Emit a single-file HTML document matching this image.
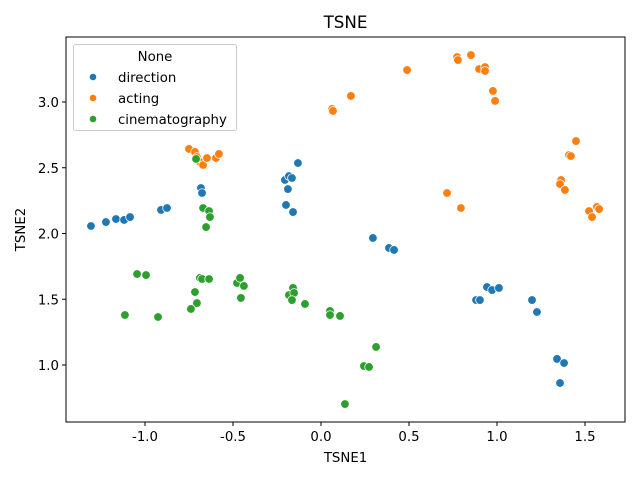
<!DOCTYPE html>
<html><head><meta charset="utf-8"><style>
body{margin:0;background:#fff;}
svg{display:block;font-family:"DejaVu Sans","Liberation Sans",sans-serif;}
</style></head><body>
<svg id="chart" width="640" height="480">
</svg>
<script>
const categories = ["direction","acting","cinematography"];
const colors = ["#1f77b4","#ff7f0e","#2ca02c"];
const xTicks = [-1.0,-0.5,0.0,0.5,1.0,1.5];
const yTicks = [1.0,1.5,2.0,2.5,3.0];
const directionX = [-1.307,-1.222,-1.165,-1.119,-1.085,-0.909,-0.875,-0.682,-0.676,-0.205,-0.182,-0.165,-0.188,-0.131,-0.199,-0.159,0.295,0.386,0.415,0.881,0.903,0.943,0.972,1.011,1.199,1.227,1.341,1.381,1.358];
const directionY = [2.057,2.087,2.110,2.103,2.125,2.179,2.194,2.346,2.308,2.407,2.437,2.422,2.338,2.536,2.217,2.163,1.966,1.890,1.875,1.494,1.494,1.593,1.570,1.586,1.494,1.403,1.046,1.015,0.863];
const actingX = [-0.750,-0.716,-0.705,-0.688,-0.670,-0.648,-0.597,-0.580,0.489,0.773,0.778,0.852,0.898,0.932,0.932,0.977,0.989,0.716,0.795,1.449,1.409,1.420,1.364,1.358,1.386,1.523,1.568,1.580,1.540,0.170,0.063,0.068];
const actingY = [2.643,2.620,2.582,2.544,2.521,2.574,2.574,2.605,3.243,3.342,3.319,3.357,3.251,3.266,3.236,3.084,3.008,2.308,2.194,2.703,2.597,2.589,2.407,2.376,2.331,2.171,2.202,2.186,2.125,3.046,2.947,2.932];
const cinemaX = [-0.710,-0.670,-0.636,-0.631,-0.653,-1.045,-0.994,-0.688,-0.676,-0.636,-0.716,-0.705,-0.739,-1.114,-0.926,-0.477,-0.460,-0.438,-0.455,-0.182,-0.159,-0.153,-0.165,-0.091,0.051,0.051,0.108,0.313,0.244,0.273,0.136];
const cinemaY = [2.567,2.194,2.171,2.125,2.049,1.692,1.684,1.662,1.654,1.654,1.555,1.471,1.426,1.380,1.365,1.624,1.662,1.601,1.510,1.532,1.586,1.548,1.494,1.464,1.411,1.380,1.373,1.137,0.992,0.985,0.703];

const L=66,R=625,T=37,B=422;
const sx = v => 321 + v*176;
const sy = v => 365 - (v-1)*131.5;
const NS="http://www.w3.org/2000/svg";
const svg=document.getElementById('chart');
function mk(tag,attrs,parent){const e=document.createElementNS(NS,tag);for(const k in attrs)e.setAttribute(k,attrs[k]);(parent||svg).appendChild(e);return e;}

const title=mk('text',{x:(L+R)/2,y:28,'text-anchor':'middle','font-size':16.7,fill:'#000'});
title.textContent='TSNE';



const series=[[directionX,directionY],[actingX,actingY],[cinemaX,cinemaY]];
series.forEach((s,si)=>{
  const g=mk('g',{});
  
  
  s[0].forEach((xv,i)=>{
    const c=mk('circle',{cx:sx(xv),cy:sy(s[1][i]),r:4.3,fill:colors[si],stroke:'#fff','stroke-width':0.75},g);
    
    
  });
});

const frame=mk('rect',{x:L,y:T,width:R-L,height:B-T,fill:'none',stroke:'#000','stroke-width':1});



xTicks.forEach(t=>{
  const x=sx(t);
  mk('line',{x1:x,x2:x,y1:B,y2:B+4,stroke:'#000'});
  const tx=mk('text',{x:x,y:B+19,'text-anchor':'middle','font-size':13.3,fill:'#000'});
  tx.textContent=t.toFixed(1);
  
  
});
yTicks.forEach(t=>{
  const y=sy(t);
  mk('line',{x1:L-4,x2:L,y1:y,y2:y,stroke:'#000'});
  const tx=mk('text',{x:L-7,y:y+5,'text-anchor':'end','font-size':13.3,fill:'#000'});
  tx.textContent=t.toFixed(1);
  
  
});
const xl=mk('text',{x:(L+R)/2,y:462,'text-anchor':'middle','font-size':13.3,fill:'#000'});
xl.textContent='TSNE1';


const yl=mk('text',{x:0,y:0,'text-anchor':'middle','font-size':13.3,fill:'#000',transform:'translate(25,'+((T+B)/2)+') rotate(-90)'});
yl.textContent='TSNE2';



const lg=mk('g',{});


mk('rect',{x:73.5,y:44.5,width:163,height:86,rx:2,fill:'#fff','fill-opacity':0.8,stroke:'#ccc'},lg);
const lt=mk('text',{x:155,y:61,'text-anchor':'middle','font-size':13.3,fill:'#000'},lg);
lt.textContent='None';


categories.forEach((c,i)=>{
  const y=77+i*21;
  const e=mk('g',{},lg);
  
  
  mk('circle',{cx:93,cy:y,r:3.3,fill:colors[i]},e);
  const t=mk('text',{x:118,y:y+5,'font-size':13.3,fill:'#000'},e);
  t.textContent=c;
});
</script>
</body></html>
